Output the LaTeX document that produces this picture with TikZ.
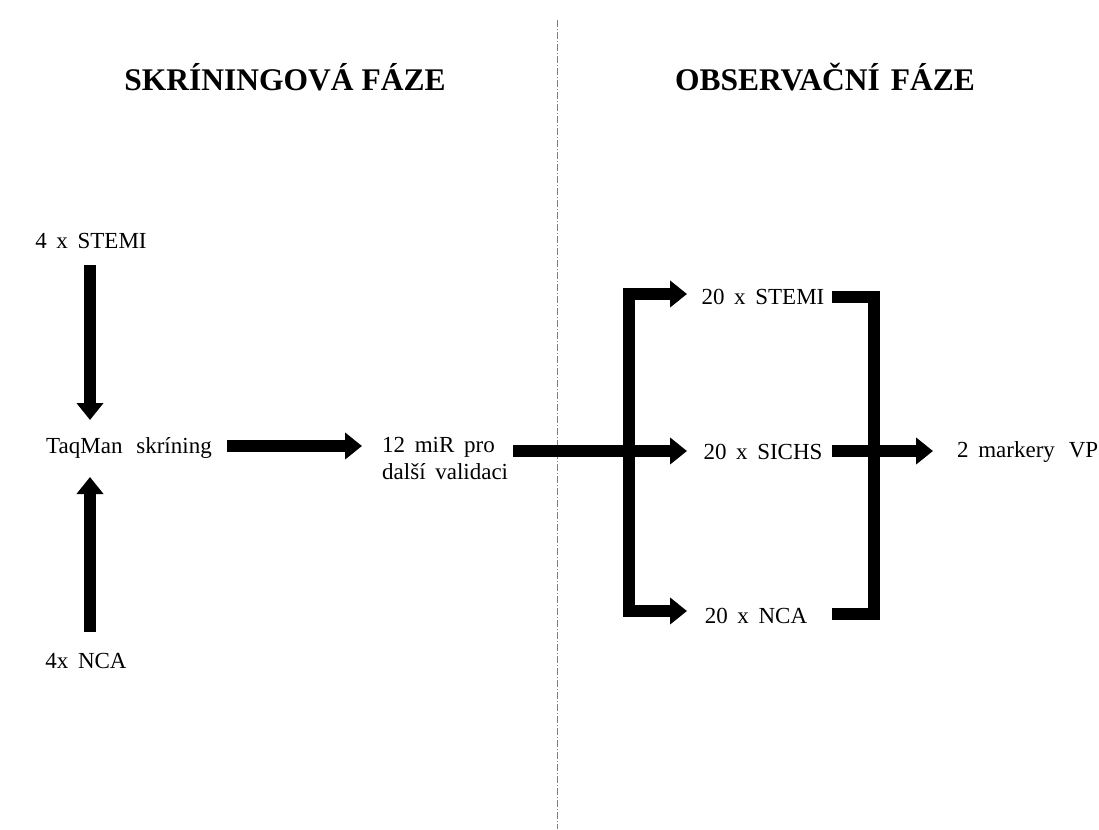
\documentclass[tikz,border=0pt]{standalone}
\usepackage{fontspec}
\setmainfont{Liberation Serif}
\usetikzlibrary{arrows.meta,positioning,calc}
\newcommand\gap{\hspace{0.42em}}
\tikzset{
  txt/.style={font=\fontsize{23}{27}\selectfont, inner sep=0pt, align=left},
  title/.style={font=\fontsize{31.5}{34}\selectfont\bfseries, inner sep=0pt},
  bar/.style={line width=12pt, line join=miter},
  arr/.style={bar, -{Triangle[length=17pt,width=26pt]}},
  divider/.style={gray, line width=1pt, dash pattern=on 7pt off 2pt on 1pt off 2pt},
}

\begin{document}
\begin{tikzpicture}[x=1pt,y=-1pt]
\useasboundingbox (0,0) rectangle (1099,829);

% titles and dividing line
\node[title] (t1) at (285,77) {SKRÍNINGOVÁ FÁZE};
\node[title] (t2) at (825,77) {OBSERVAČNÍ\hspace{0.35em}FÁZE};
\coordinate (dtop) at (557,20);
\coordinate (dbot) at (557,829);
\draw[divider] (dtop) -- (dbot);

% screening phase
\node[txt] (stemi4) at (91,241) {4\gap x\gap STEMI};
\node[txt] (taqman) at (129,448) {TaqMan\hspace{0.6em}skríning};
\node[txt] (nca4) at (86,661) {4x\gap NCA};
\node[txt, anchor=north west] (mir) at (382,437) {12\gap miR\gap pro\\další\gap validaci};

\coordinate (col) at (90,0);
\draw[arr] (col |- 0,265) -- (col |- 0,420);
\draw[arr] (col |- 0,632) -- (col |- 0,477);
\draw[arr] ([xshift=15pt]taqman.east |- 0,446) -- ([xshift=-20pt]mir.west |- 0,446);

% observation phase
\node[txt] (stemi20) at (763,297) {20\gap x\gap STEMI};
\node[txt] (sichs20) at (763,452) {20\gap x\gap SICHS};
\node[txt] (nca20) at (756,616) {20\gap x\gap NCA};
\node[txt, anchor=west] (markery) at (957,452) {2\gap markery\hspace{0.6em}VP};

\coordinate (lb) at (629,451);
\coordinate (lt) at (687,451);
\coordinate (rs) at (832,451);
\coordinate (rb) at (874,451);

\draw[bar] ([xshift=5pt]mir.east |- lb) -- (lb);
\draw[arr] (lb) -- (lt);
\draw[arr] (lb) |- (lt |- 0,294);
\draw[arr] (lb) |- (lt |- 0,611);

\draw[bar] (rs |- 0,297) -| (rb);
\draw[bar] (rs |- 0,614) -| (rb);
\draw[bar] (rs) -- (rb);
\draw[arr] (rb) -- ([xshift=-24pt]markery.west |- rb);

\end{tikzpicture}
\end{document}
